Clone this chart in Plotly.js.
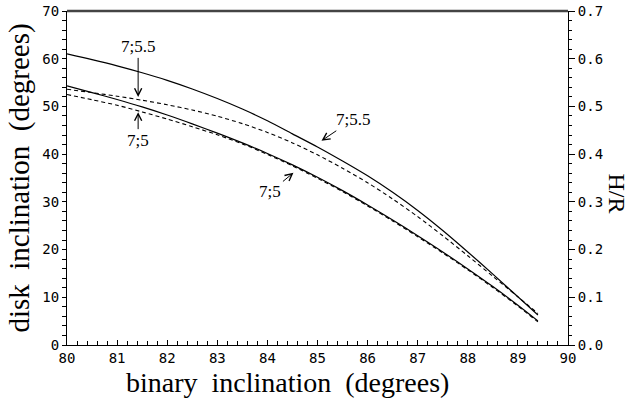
<!DOCTYPE html>
<html>
<head>
<meta charset="utf-8">
<script src="https://cdn.plot.ly/plotly-3.0.1.min.js"></script>
<style>html,body{margin:0;padding:0;background:#fff;}#chart{width:629px;height:400px;}</style>
</head>
<body>
<div id="chart"></div>
<script>
// binary inclination (degrees)
var binaryInc = [80, 80.5, 81, 81.5, 82, 82.5, 83, 83.5, 84, 84.5, 85, 85.5, 86, 86.5, 87, 87.5, 88, 88.5, 89, 89.4];
// disk inclination, solid curve labelled 7;5.5 (upper)
var solid755 = [61.0, 59.8, 58.5, 57.05, 55.45, 53.65, 51.65, 49.45, 47.0, 44.25, 41.5, 38.55, 35.45, 32.0, 28.2, 24.0, 19.5, 14.85, 10.1, 6.3];
// dashed curve labelled 7;5.5
var dashed755 = [53.6, 52.9, 52.15, 51.3, 50.35, 49.25, 47.95, 46.4, 44.55, 42.35, 39.85, 37.05, 34.0, 30.6, 26.9, 22.9, 18.7, 14.4, 10.1, 6.6];
// solid curve labelled 7;5
var solid75 = [54.3, 52.9, 51.45, 49.9, 48.2, 46.35, 44.4, 42.35, 40.15, 37.75, 35.15, 32.35, 29.35, 26.2, 22.9, 19.5, 15.95, 12.25, 8.35, 5.05];
// dashed curve labelled 7;5
var dashed75 = [52.5, 51.4, 50.25, 48.85, 47.35, 45.75, 44.05, 42.15, 39.95, 37.55, 34.95, 32.15, 29.15, 26.0, 22.7, 19.3, 15.75, 12.05, 8.15, 4.85];

var xTicks = [80, 81, 82, 83, 84, 85, 86, 87, 88, 89, 90];
var yTicks = [0, 10, 20, 30, 40, 50, 60, 70];
var y2Ticks = [0, 0.1, 0.2, 0.3, 0.4, 0.5, 0.6, 0.7];
var y2TickText = ["0.0", "0.1", "0.2", "0.3", "0.4", "0.5", "0.6", "0.7"];

var lab = {
  x: [81.42, 81.42, 85.08, 84.52],
  y: [52.0, 48.8, 42.8, 36.1],
  text: ["7;5.5", "7;5", "7;5.5", "7;5"],
  ax: [0, 0, 31, -23],
  ay: [-50, 28, -21, 19]
};

var lineSolid = {color: '#000', width: 1.2, dash: 'solid', shape: 'spline', smoothing: 0.8};
var lineDash = {color: '#000', width: 1.1, dash: '4px,3px', shape: 'spline', smoothing: 0.8};

var traces = [
  {x: binaryInc, y: solid755, mode: 'lines', line: lineSolid, name: 'solid 7;5.5', hoverinfo: 'x+y'},
  {x: binaryInc, y: dashed755, mode: 'lines', line: lineDash, name: 'dashed 7;5.5', hoverinfo: 'x+y'},
  {x: binaryInc, y: solid75, mode: 'lines', line: lineSolid, name: 'solid 7;5', hoverinfo: 'x+y'},
  {x: binaryInc, y: dashed75, mode: 'lines', line: lineDash, name: 'dashed 7;5', hoverinfo: 'x+y'},
  {x: [], y: [], yaxis: 'y2', mode: 'lines', showlegend: false, hoverinfo: 'skip'}
];

var tickFont = {family: 'DejaVu Sans Mono', size: 14, color: '#000'};
var annotations = lab.text.map(function (t, i) {
  return {
    x: lab.x[i], y: lab.y[i], xref: 'x', yref: 'y',
    text: t, showarrow: true, ax: lab.ax[i], ay: lab.ay[i],
    arrowhead: 5, arrowsize: 1.4, arrowwidth: 1, arrowcolor: '#000', standoff: 0,
    font: {family: 'Liberation Serif', size: 17, color: '#000'}
  };
});
annotations.push({
  xref: 'paper', yref: 'paper', x: 1.097, y: 0.455, xanchor: 'center', yanchor: 'middle',
  text: 'H/R', showarrow: false,
  textangle: 90, font: {family: 'Liberation Serif', size: 24, color: '#000'}
});
annotations.push({
  xref: 'paper', yref: 'paper', x: 0.441, y: -0.112, xanchor: 'center', yanchor: 'middle',
  text: 'binary\u00A0 inclination\u00A0 (degrees)', showarrow: false,
  font: {family: 'Liberation Serif', size: 28, color: '#000'}
});

var layout = {
  width: 629, height: 400,
  margin: {l: 67, r: 61, t: 11, b: 55},
  paper_bgcolor: '#fff', plot_bgcolor: '#fff',
  showlegend: false,
  xaxis: {
    range: [80, 90], tickvals: xTicks, ticktext: xTicks.map(String),
    ticks: 'inside', ticklen: 5, tickwidth: 1, tickcolor: '#000',
    minor: {dtick: 0.2, ticks: 'inside', ticklen: 4, tickcolor: '#000', tickwidth: 1},
    showline: true, linecolor: '#000', linewidth: 1, showgrid: false, zeroline: false,
    tickfont: tickFont
  },
  yaxis: {
    range: [0, 70], tickvals: yTicks, ticktext: yTicks.map(String),
    ticks: 'outside', ticklen: 4, tickwidth: 1, tickcolor: '#000',
    minor: {dtick: 2, ticks: 'outside', ticklen: 4, tickcolor: '#000', tickwidth: 1},
    showline: true, linecolor: '#000', linewidth: 1, showgrid: false, zeroline: false,
    tickfont: tickFont,
    title: {text: 'disk\u00A0 inclination\u00A0 (degrees)', font: {family: 'Liberation Serif', size: 29, color: '#000'}, standoff: 4}
  },
  yaxis2: {
    overlaying: 'y', side: 'right', range: [0, 0.7],
    tickvals: y2Ticks, ticktext: y2TickText,
    ticks: 'outside', ticklen: 6, tickwidth: 1, tickcolor: '#000',
    minor: {dtick: 0.02, ticks: 'outside', ticklen: 3, tickcolor: '#000', tickwidth: 1},
    showline: true, linecolor: '#000', linewidth: 1, showgrid: false, zeroline: false,
    tickfont: tickFont
  },
  shapes: [{type: 'line', xref: 'paper', yref: 'paper', x0: 0, x1: 1, y0: 1, y1: 1, line: {color: '#444', width: 2.5}}],
  annotations: annotations
};

Plotly.newPlot('chart', traces, layout, {staticPlot: true, displayModeBar: false});
</script>
</body>
</html>
